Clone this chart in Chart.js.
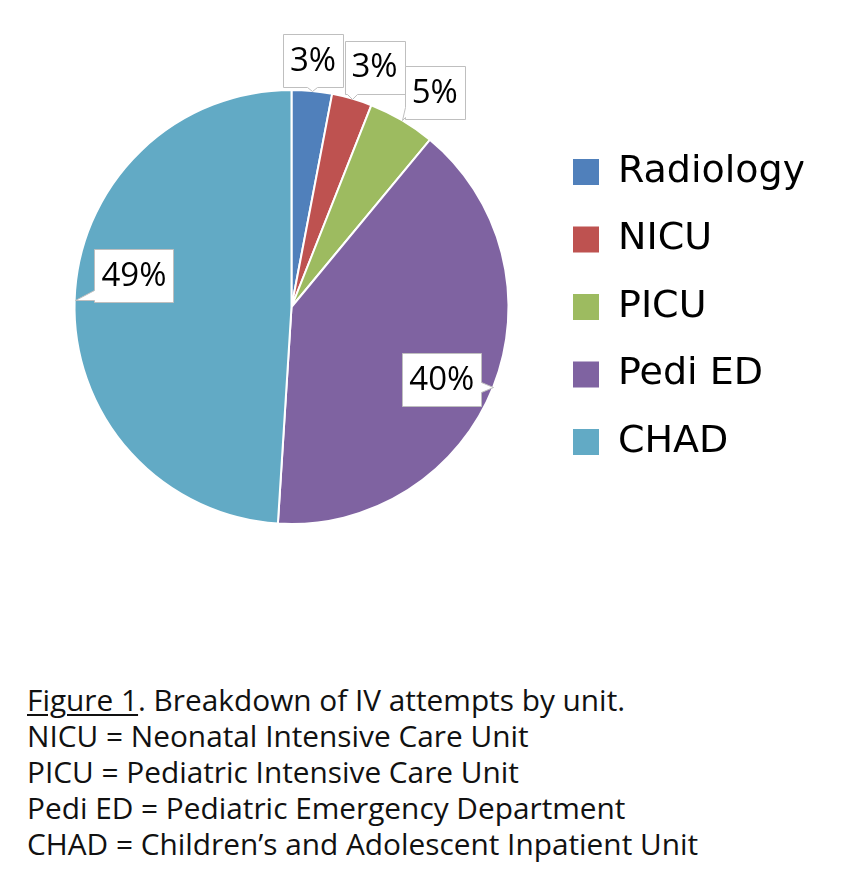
<!DOCTYPE html>
<html>
<head>
<meta charset="utf-8">
<script src="https://cdn.jsdelivr.net/npm/chart.js@4.4.1/dist/chart.umd.min.js"></script>
<style>
  body { margin: 0; background: #fff; }
  #wrap { position: relative; width: 848px; height: 888px; }
  #chartBox { position: absolute; left: 0; top: 0; width: 848px; height: 620px; }
  #caption {
    position: absolute; left: 27px; top: 682px;
    font-family: "Open Sans", sans-serif; font-size: 29.8px; line-height: 36px; color: #111;
    white-space: nowrap;
  }
  #caption u { text-underline-offset: 3px; text-decoration-thickness: 1.5px; }
</style>
</head>
<body>
<div id="wrap">
  <div id="chartBox"><canvas id="pie"></canvas></div>
  <div id="caption">
    <u>Figure 1</u>. Breakdown of IV attempts by unit.<br>
    NICU = Neonatal Intensive Care Unit<br>
    PICU = Pediatric Intensive Care Unit<br>
    Pedi ED = Pediatric Emergency Department<br>
    CHAD = Children’s and Adolescent Inpatient Unit
  </div>
</div>
<script>
// chart data
const units = ['Radiology', 'NICU', 'PICU', 'Pedi ED', 'CHAD'];
const attemptShare = [3, 3, 5, 40, 49];
const pctLabels = ['3%', '3%', '5%', '40%', '49%'];
const sliceColors = ['#5080BB', '#BE5250', '#9DBB60', '#7F63A1', '#62AAC5'];

// where each callout sits, relative to its slice (radius factor, turn in degrees)
const labelRadius = [1.14, 1.17, 1.19, 0.77, 0.74];
const labelTurn = [-0.4, 2.9, 3.1, 4.3, 9.4];
const labelFontSize = 33;

function drawCallout(ctx, x, y, w, h, tip) {
    const cx = x + w / 2, cy = y + h / 2;
    const nx = (tip.x - cx) / (w / 2), ny = (tip.y - cy) / (h / 2);
    const base = 10;
    const clamp = (v, lo, hi) => Math.max(lo, Math.min(hi, v));
    let side;
    if (Math.abs(ny) > Math.abs(nx)) side = ny > 0 ? 'bottom' : 'top';
    else side = nx > 0 ? 'right' : 'left';

    const pts = [[x, y]];
    if (side === 'top') {
        const m = clamp(tip.x, x + base / 2 + 2, x + w - base / 2 - 2);
        pts.push([m - base / 2, y], [tip.x, tip.y], [m + base / 2, y]);
    }
    pts.push([x + w, y]);
    if (side === 'right') {
        const m = clamp(tip.y, y + base / 2 + 2, y + h - base / 2 - 2);
        pts.push([x + w, m - base / 2], [tip.x, tip.y], [x + w, m + base / 2]);
    }
    pts.push([x + w, y + h]);
    if (side === 'bottom') {
        const m = clamp(tip.x, x + base / 2 + 2, x + w - base / 2 - 2);
        pts.push([m + base / 2, y + h], [tip.x, tip.y], [m - base / 2, y + h]);
    }
    pts.push([x, y + h]);
    if (side === 'left') {
        const m = clamp(tip.y, y + base / 2 + 2, y + h - base / 2 - 2);
        pts.push([x, m + base / 2], [tip.x, tip.y], [x, m - base / 2]);
    }

    ctx.beginPath();
    pts.forEach((p, i) => {
        const px = Math.round(p[0]) + 0.5, py = Math.round(p[1]) + 0.5;
        if (i === 0) ctx.moveTo(px, py); else ctx.lineTo(px, py);
    });
    ctx.closePath();
    ctx.fillStyle = '#fff';
    ctx.fill();
    ctx.strokeStyle = '#BFBFBF';
    ctx.lineWidth = 1;
    ctx.stroke();
}

// callout boxes with percentages
const calloutPlugin = {
    id: 'callouts',
    afterDatasetsDraw(chart) {
        const ctx = chart.ctx;
        const arcs = chart.getDatasetMeta(0).data;
        ctx.save();
        ctx.font = labelFontSize + 'px "Open Sans"';
        arcs.forEach((arc, i) => {
            const p = arc.getProps(['x', 'y', 'startAngle', 'endAngle', 'outerRadius'], true);
            const mid = (p.startAngle + p.endAngle) / 2;
            const tip = { x: p.x + Math.cos(mid) * p.outerRadius, y: p.y + Math.sin(mid) * p.outerRadius };
            const a = mid + labelTurn[i] * Math.PI / 180;
            const r = p.outerRadius * labelRadius[i];
            const cx = p.x + Math.cos(a) * r, cy = p.y + Math.sin(a) * r;
            const w = ctx.measureText(pctLabels[i]).width + 14, h = 53;
            drawCallout(ctx, cx - w / 2, cy - h / 2, w, h, tip);
            ctx.fillStyle = '#000';
            ctx.textAlign = 'center';
            ctx.textBaseline = 'middle';
            ctx.fillText(pctLabels[i], cx, cy + 1);
        });
        ctx.restore();
    }
};

const ctx = document.getElementById('pie').getContext('2d');
const pieChart = new Chart(ctx, {
    type: 'pie',
    data: {
        labels: units,
        datasets: [{
            data: attemptShare,
            backgroundColor: sliceColors,
            borderColor: '#fff',
            borderWidth: 2
        }]
    },
    options: {
        responsive: true,
        maintainAspectRatio: false,
        animation: false,
        layout: { padding: { top: 89, bottom: 95, left: 39.5, right: 44.5 } },
        plugins: {
            legend: {
                position: 'right',
                align: 'center',
                maxWidth: 260,
                labels: {
                    boxWidth: 26,
                    boxHeight: 26,
                    padding: 29.5,
                    color: '#000',
                    font: { family: 'DejaVu Sans', size: 38 },
                    generateLabels(chart) {
                        const items = Chart.overrides.pie.plugins.legend.labels.generateLabels(chart);
                        items.forEach(item => { item.lineWidth = 0; });
                        return items;
                    }
                }
            },
            tooltip: { enabled: false }
        }
    },
    plugins: [calloutPlugin]
});
</script>
</body>
</html>
